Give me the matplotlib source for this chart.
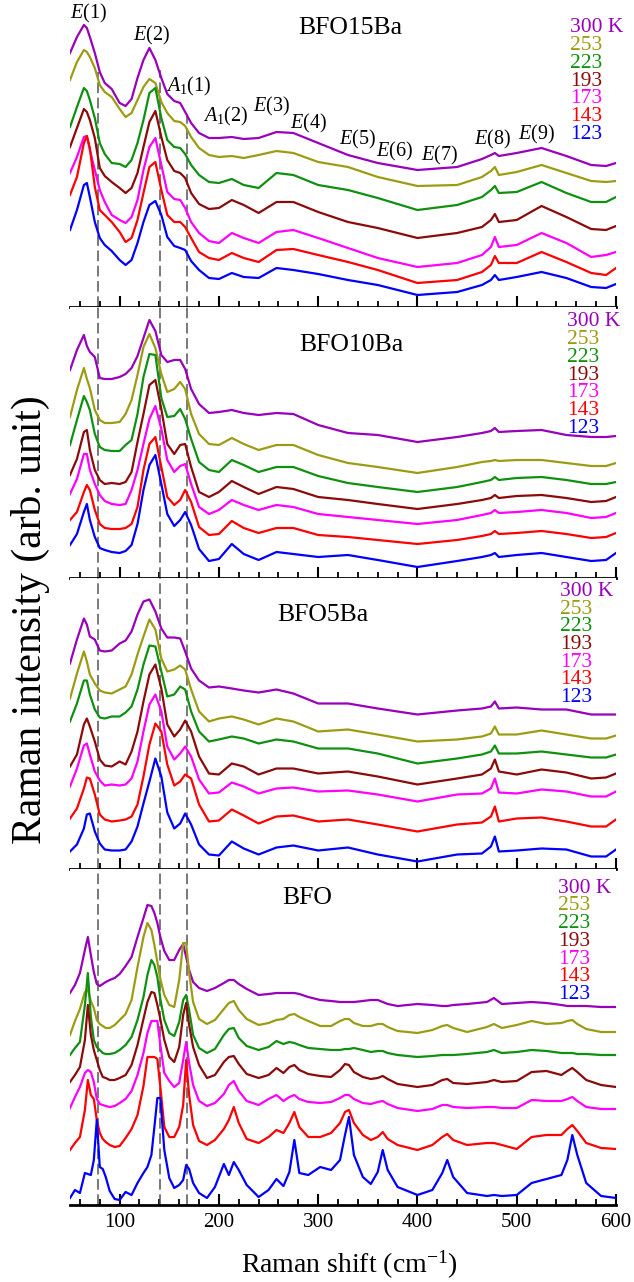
#!/usr/bin/env python
"""Temperature dependent Raman spectra of BFO and Ba doped BFO (stacked)."""

import matplotlib

matplotlib.use("Agg")
import matplotlib.pyplot as plt
from matplotlib.ticker import MultipleLocator

plt.rcParams["font.family"] = ["Liberation Serif", "DejaVu Serif"]
plt.rcParams["mathtext.fontset"] = "custom"
plt.rcParams["mathtext.rm"] = "Liberation Serif"
plt.rcParams["mathtext.it"] = "Liberation Serif:italic"

# ---- data (stacked intensity, arb. unit) ----
shift_ba = [50, 57, 64, 67, 70, 75, 80, 85, 92, 100, 106, 112, 118, 124, 130,
            136, 142, 148, 155, 161, 166, 172, 180, 190, 200, 213, 225, 240,
            258, 275, 300, 330, 360, 400, 440, 465, 474, 478, 482, 500, 525,
            550, 575, 590, 600]

shift_bfo = [50, 55, 60, 65, 68, 71, 74, 77, 80, 83, 86, 90, 95, 100, 106, 112,
             118, 124, 128, 132, 135, 138, 141, 145, 150, 155, 160, 164, 167,
             170, 174, 180, 188, 196, 205, 210, 215, 220, 228, 240, 250, 258,
             265, 271, 276, 281, 290, 302, 313, 322, 327, 331, 336, 345, 353,
             360, 365, 370, 380, 400, 415, 425, 430, 436, 450, 470, 477, 485,
             500, 515, 530, 545, 551, 556, 561, 570, 585, 600]

temperatures = ["300 K", "253", "223", "193", "173", "143", "123"]

# BFO15Ba
ba15_300 = [254, 270, 282, 279, 270, 254, 235, 224, 218, 204, 201, 208, 229, 247, 259,
            247, 229, 213, 206, 204, 195, 184, 174, 169, 169, 170, 168, 169, 175, 174,
            164, 152, 144, 137, 140, 148, 152, 154, 151, 154, 159, 151, 142, 141, 144]
ba15_253 = [227, 245, 257, 255, 250, 239, 222, 215, 210, 198, 190, 194, 207, 220, 228,
            224, 205, 194, 186, 185, 181, 170, 159, 152, 150, 151, 149, 152, 156, 154,
            145, 140, 130, 121, 122, 130, 136, 140, 132, 135, 142, 134, 126, 125, 126]
ba15_223 = [180, 200, 219, 216, 207, 189, 164, 153, 144, 143, 140, 147, 164, 187, 214,
            219, 189, 167, 160, 159, 153, 142, 132, 125, 124, 128, 122, 119, 134, 132,
            122, 117, 109, 97, 102, 110, 117, 121, 114, 115, 125, 114, 105, 105, 110]
ba15_193 = [160, 179, 198, 195, 187, 169, 139, 131, 125, 119, 114, 119, 134, 160, 185,
            196, 170, 147, 136, 134, 129, 114, 103, 98, 99, 107, 102, 94, 105, 105,
            95, 85, 79, 69, 74, 80, 87, 93, 85, 87, 101, 90, 78, 77, 81]
ba15_173 = [134, 150, 170, 171, 157, 137, 117, 105, 92, 87, 84, 90, 107, 137, 160,
            169, 142, 115, 108, 107, 99, 85, 74, 66, 64, 74, 69, 64, 75, 77,
            69, 59, 49, 40, 44, 52, 60, 70, 60, 62, 74, 64, 50, 52, 55]
ba15_143 = [112, 130, 164, 171, 159, 120, 97, 92, 85, 75, 65, 69, 87, 114, 140,
            145, 117, 92, 85, 85, 80, 69, 55, 49, 47, 54, 49, 45, 57, 58,
            52, 45, 37, 24, 27, 35, 42, 51, 44, 44, 55, 45, 34, 32, 39]
ba15_123 = [77, 97, 122, 124, 110, 85, 69, 62, 56, 47, 42, 47, 64, 85, 102,
            106, 92, 70, 61, 59, 57, 46, 37, 29, 28, 34, 30, 29, 39, 37,
            33, 27, 22, 12, 15, 22, 27, 32, 27, 30, 35, 29, 20, 19, 23]

# BFO10Ba
ba10_300 = [208, 228, 243, 232, 226, 221, 200, 199, 199, 201, 204, 210, 222, 240, 258,
            247, 223, 216, 218, 218, 209, 189, 174, 165, 166, 168, 165, 163, 165, 164,
            153, 145, 143, 136, 141, 145, 147, 150, 146, 147, 148, 143, 141, 141, 142]
ba10_253 = [161, 188, 210, 199, 190, 168, 158, 155, 155, 156, 164, 178, 203, 231, 244,
            230, 204, 186, 189, 196, 189, 164, 144, 134, 133, 140, 134, 128, 133, 133,
            123, 115, 111, 105, 111, 116, 117, 118, 117, 118, 118, 115, 112, 112, 115]
ba10_223 = [133, 158, 182, 176, 168, 144, 131, 128, 127, 127, 133, 138, 164, 201, 224,
            223, 180, 161, 162, 169, 159, 139, 116, 108, 106, 118, 113, 106, 111, 111,
            102, 95, 91, 86, 91, 96, 98, 101, 98, 100, 101, 98, 94, 94, 96]
ba10_193 = [103, 119, 146, 148, 128, 108, 98, 94, 95, 94, 96, 106, 136, 164, 193,
            198, 169, 134, 124, 133, 134, 111, 86, 81, 86, 97, 91, 84, 91, 89,
            81, 78, 74, 69, 74, 78, 80, 83, 80, 82, 83, 80, 76, 77, 81]
ba10_173 = [84, 99, 124, 124, 108, 94, 83, 77, 74, 73, 74, 88, 108, 134, 159,
            172, 149, 118, 106, 112, 114, 94, 71, 64, 68, 78, 73, 68, 73, 71,
            64, 61, 58, 54, 58, 63, 65, 68, 65, 66, 68, 65, 60, 61, 65]
ba10_143 = [58, 66, 86, 93, 88, 68, 54, 50, 49, 49, 50, 54, 71, 108, 134,
            141, 111, 81, 73, 78, 88, 76, 51, 43, 44, 57, 50, 45, 50, 50,
            43, 41, 38, 34, 38, 42, 44, 47, 44, 45, 47, 44, 40, 41, 45]
ba10_123 = [33, 44, 66, 74, 58, 41, 30, 28, 26, 25, 27, 33, 54, 88, 113,
            123, 94, 64, 52, 58, 66, 53, 29, 17, 19, 34, 24, 18, 26, 24,
            21, 23, 18, 11, 17, 21, 23, 25, 21, 23, 25, 21, 17, 18, 25]

# BFO5Ba
ba5_300 = [205, 229, 250, 244, 232, 229, 218, 217, 218, 225, 228, 237, 254, 267, 269,
           257, 240, 231, 231, 230, 217, 200, 188, 181, 182, 180, 178, 176, 179, 175,
           165, 165, 160, 154, 158, 160, 162, 167, 160, 161, 159, 159, 154, 154, 154]
ba5_253 = [170, 195, 217, 207, 194, 185, 178, 176, 175, 179, 182, 194, 214, 232, 249,
           239, 210, 197, 199, 203, 199, 179, 157, 147, 150, 152, 149, 144, 150, 147,
           137, 139, 134, 127, 129, 132, 135, 142, 134, 134, 138, 134, 130, 130, 133]
ba5_223 = [147, 165, 188, 188, 174, 159, 151, 150, 152, 152, 156, 162, 179, 204, 223,
           222, 197, 172, 174, 182, 179, 157, 137, 127, 129, 132, 130, 125, 129, 127,
           120, 120, 115, 105, 110, 114, 117, 123, 115, 115, 117, 114, 111, 111, 114]
ba5_193 = [102, 114, 144, 150, 142, 127, 109, 103, 102, 107, 104, 117, 137, 167, 194,
           204, 180, 144, 132, 139, 148, 137, 112, 95, 94, 105, 102, 94, 100, 100,
           95, 97, 92, 84, 90, 94, 100, 109, 97, 94, 99, 96, 90, 91, 95]
ba5_173 = [82, 100, 123, 125, 114, 97, 88, 83, 84, 83, 84, 90, 107, 137, 164,
           174, 157, 122, 109, 115, 122, 112, 89, 75, 76, 86, 82, 75, 80, 81,
           77, 78, 74, 67, 74, 75, 80, 90, 76, 75, 79, 77, 72, 72, 77]
ba5_143 = [50, 60, 80, 91, 90, 74, 54, 49, 47, 48, 49, 52, 64, 92, 124,
           145, 137, 104, 83, 87, 94, 90, 64, 47, 48, 59, 53, 45, 52, 53,
           47, 49, 44, 37, 44, 46, 52, 62, 47, 50, 51, 47, 42, 42, 49]
ba5_123 = [17, 24, 40, 54, 55, 37, 25, 19, 18, 18, 19, 27, 42, 65, 87,
           110, 92, 56, 40, 45, 55, 44, 24, 14, 13, 27, 20, 14, 21, 23,
           18, 21, 14, 7, 14, 15, 22, 32, 17, 18, 20, 19, 12, 12, 19]

# BFO
bfo_300 = [212, 220, 232, 255, 268, 250, 233, 221, 219, 221, 223, 225, 227, 231, 239, 248,
           268, 287, 300, 299, 292, 282, 268, 254, 245, 245, 255, 261, 248, 235,
           223, 217, 214, 217, 222, 225, 225, 221, 216, 210, 211, 212, 212, 212,
           212, 211, 208, 205, 204, 203, 203, 203, 203, 204, 205, 205, 203, 201,
           199, 201, 200, 199, 199, 200, 201, 203, 207, 201, 202, 203, 202, 200,
           199, 199, 199, 199, 198, 198]
bfo_253 = [170, 184, 196, 213, 215, 204, 197, 185, 181, 179, 177, 177, 180, 185, 191, 205,
           238, 268, 282, 275, 260, 243, 226, 210, 200, 198, 225, 262, 262, 232,
           203, 186, 181, 185, 196, 202, 204, 195, 186, 180, 182, 185, 186, 190,
           191, 188, 184, 179, 179, 184, 186, 186, 182, 179, 179, 181, 181, 178,
           174, 172, 175, 179, 180, 177, 173, 178, 181, 177, 180, 184, 181, 182,
           184, 185, 181, 176, 173, 173]
bfo_223 = [150, 157, 163, 200, 232, 188, 165, 158, 155, 152, 151, 151, 152, 155, 160, 168,
           185, 208, 230, 245, 240, 228, 206, 185, 172, 169, 183, 205, 210, 195,
           170, 157, 152, 156, 170, 176, 177, 167, 159, 155, 158, 164, 161, 163,
           162, 160, 157, 156, 155, 155, 156, 156, 157, 155, 153, 154, 154, 152,
           150, 148, 149, 150, 150, 150, 151, 153, 155, 152, 153, 155, 154, 152,
           152, 152, 151, 151, 150, 150]
bfo_193 = [123, 130, 138, 165, 200, 170, 155, 145, 135, 128, 127, 125, 125, 127, 130, 140,
           160, 186, 203, 213, 212, 200, 186, 165, 148, 143, 158, 190, 202, 180,
           158, 140, 127, 130, 143, 148, 149, 141, 131, 127, 130, 137, 132, 138,
           140, 135, 131, 129, 128, 135, 141, 140, 133, 128, 126, 127, 129, 126,
           121, 118, 120, 125, 126, 122, 121, 123, 125, 123, 124, 133, 134, 130,
           134, 137, 133, 125, 120, 118]
bfo_173 = [97, 108, 118, 132, 135, 133, 123, 106, 101, 100, 99, 98, 99, 102, 106, 114,
           130, 152, 172, 184, 184, 184, 160, 132, 124, 118, 122, 145, 163, 142,
           120, 104, 99, 102, 111, 120, 124, 114, 104, 100, 106, 110, 104, 108,
           110, 106, 103, 102, 103, 107, 110, 110, 106, 102, 101, 103, 104, 101,
           97, 94, 96, 100, 100, 98, 97, 98, 98, 97, 97, 105, 104, 104,
           106, 108, 104, 98, 96, 96]
bfo_143 = [55, 62, 68, 95, 125, 110, 106, 85, 72, 66, 63, 60, 58, 59, 67, 76,
           90, 119, 148, 148, 148, 146, 118, 78, 68, 68, 78, 100, 145, 110,
           80, 64, 60, 65, 76, 85, 98, 82, 66, 62, 68, 75, 72, 82,
           93, 78, 68, 68, 72, 82, 93, 95, 82, 70, 65, 68, 73, 66,
           60, 55, 60, 68, 71, 65, 60, 62, 62, 60, 56, 68, 70, 70,
           76, 80, 74, 62, 57, 56]
bfo_123 = [7, 15, 12, 32, 31, 30, 45, 85, 38, 36, 28, 14, 6, 5, 13, 10,
           22, 32, 38, 50, 78, 107, 107, 55, 27, 17, 20, 25, 40, 36,
           22, 12, 7, 18, 41, 30, 43, 35, 20, 8, 15, 26, 19, 33,
           65, 32, 30, 38, 35, 45, 70, 88, 50, 28, 21, 33, 55, 35,
           18, 10, 15, 32, 45, 28, 12, 9, 10, 9, 10, 22, 26, 30,
           45, 70, 50, 22, 9, 7]

dashed_shifts = [78, 141, 168]
mode_labels = [r"$\mathit{E}$(1)", r"$\mathit{E}$(2)", r"$\mathit{A}_1$(1)",
               r"$\mathit{A}_1$(2)", r"$\mathit{E}$(3)", r"$\mathit{E}$(4)",
               r"$\mathit{E}$(5)", r"$\mathit{E}$(6)", r"$\mathit{E}$(7)",
               r"$\mathit{E}$(8)", r"$\mathit{E}$(9)"]
mode_shifts = [69, 132, 170, 207, 253, 290, 340, 377, 422, 476, 520]

colors = ["#9900bb", "#9c9c14", "#109010", "#8b0a0a", "#ff00ff", "#ff0000", "#0000ff"]

# ---- layout (pixels of the 634x1282 canvas) ----
W, H = 634, 1282
X0, X1 = 70, 616
panel_px = [(0, 307), (307, 578), (578, 868.5), (868.5, 1205)]

panels = [
    ("BFO15Ba", shift_ba, [ba15_300, ba15_253, ba15_223, ba15_193, ba15_173, ba15_143, ba15_123]),
    ("BFO10Ba", shift_ba, [ba10_300, ba10_253, ba10_223, ba10_193, ba10_173, ba10_143, ba10_123]),
    ("BFO5Ba", shift_ba, [ba5_300, ba5_253, ba5_223, ba5_193, ba5_173, ba5_143, ba5_123]),
    ("BFO", shift_bfo, [bfo_300, bfo_253, bfo_223, bfo_193, bfo_173, bfo_143, bfo_123]),
]
title_pos = [(279.6, 279), (280.6, 233), (258.5, 253.5), (263.5, 307)]
temp_pos = [(553.5, 279), (550.5, 256), (543.5, 277), (541.5, 316.7)]
temp_step = 17.7
dash_top = [[235, 237, 193], None, None, None]
mode_y = [293.5, 272, 221, 191, 201, 184, 168, 156, 152, 168, 173]

fig = plt.figure(figsize=(W / 100, H / 100), dpi=100)

axes = []
for k, (name, shift, curves) in enumerate(panels):
    top, bottom = panel_px[k]
    ax = fig.add_axes([X0 / W, 1 - bottom / H, (X1 - X0) / W, (bottom - top) / H])
    axes.append(ax)
    height = bottom - top
    for values, color in zip(curves, colors):
        ax.plot(shift, values, color=color, lw=1.6, zorder=3,
                solid_joinstyle="round")
    ax.set_xlim(50, 600)
    ax.set_ylim(0, height)
    for side in ("left", "right", "top"):
        ax.spines[side].set_visible(False)
    ax.spines["bottom"].set_linewidth(2.0)
    ax.set_yticks([])
    ax.xaxis.set_major_locator(MultipleLocator(100))
    ax.xaxis.set_minor_locator(MultipleLocator(20))
    ax.tick_params(axis="x", which="major", direction="in", length=8, width=1.5,
                   labelsize=15, pad=6)
    ax.tick_params(axis="x", which="minor", direction="in", length=4.5, width=1.3)
    if k < 3:
        ax.tick_params(axis="x", labelbottom=False)

    for j, xd in enumerate(dashed_shifts):
        ymax = 1.0 if dash_top[k] is None else dash_top[k][j] / height
        ax.axvline(xd, ymin=0, ymax=ymax, color="#555555", lw=1.1,
                   ls=(0, (7, 3)), zorder=2)

    tx, ty = title_pos[k]
    ax.text(tx, ty, name, fontsize=18.5, ha="left", va="center")
    lx, ly = temp_pos[k]
    for i, (label, color) in enumerate(zip(temperatures, colors)):
        ax.text(lx, ly - i * temp_step, label, color=color, fontsize=15.5,
                ha="left", va="center")

for label, xm, ym in zip(mode_labels, mode_shifts, mode_y):
    axes[0].text(xm, ym, label, fontsize=14.5, ha="center", va="center")

fig.text(349 / W, 1 - 1265 / H, r"Raman shift (cm$^{-1}$)", fontsize=20,
         ha="center", va="center")
fig.text(30 / W, 1 - 620 / H, "Raman intensity (arb. unit)", fontsize=30,
         rotation=90, ha="center", va="center")

fig.savefig("out.png", dpi=100)
